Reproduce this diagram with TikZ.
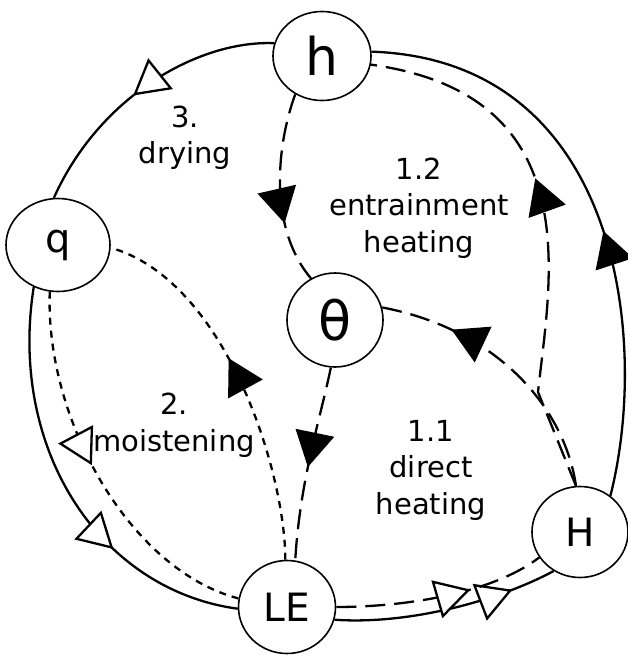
\documentclass[tikz,border=0pt]{standalone}
\usepackage{fontspec}
\setmainfont{DejaVu Sans}
\usetikzlibrary{shapes.geometric,arrows.meta,decorations.markings}
\begin{document}
\begin{tikzpicture}[x=1pt,y=-1pt,
  st/.style={draw, ellipse, fill=white, line width=1.6pt, inner sep=0pt},
  conn/.style={line width=2.3pt},
  ldash/.style={conn, dash pattern=on 20pt off 9pt},
  sdash/.style={conn, dash pattern=on 7pt off 6pt},
  fillarr/.style={postaction={decorate}, decoration={markings, mark=at position #1 with {\arrow{Triangle[length=35pt,width=39pt]}}}},
  openarr/.style={postaction={decorate}, decoration={markings, mark=at position #1 with {\arrow{Triangle[length=35pt,width=39pt,fill=white]}}}},
  lbl/.style={font=\fontsize{29}{36.5}\selectfont, align=center}
]
\useasboundingbox (0,0) rectangle (627,655);

\node[st, minimum width=98pt, minimum height=89pt, font=\fontsize{52}{52}\selectfont] (h) at (322,56) {h};
\node[st, minimum width=104pt, minimum height=93pt, font=\fontsize{40}{40}\selectfont] (q) at (58,245) {q};
\node[st, minimum width=96pt, minimum height=94pt, font=\fontsize{54}{54}\selectfont] (t) at (335,320) {θ};
\node[st, minimum width=96pt, minimum height=91pt, font=\fontsize{39}{39}\selectfont] (H) at (580,532) {H};
\node[st, minimum width=97pt, minimum height=93pt, font=\fontsize{39}{39}\selectfont] (LE) at (287,607) {LE};

\node[lbl] (l3) at (185,138) {3.\\drying};
\node[lbl] (l12) at (419,208) {1.2\\entrainment\\heating};
\node[lbl] (l2) at (174,425) {2.\\moistening};
\node[lbl] (l11) at (431,470) {1.1\\direct\\heating};

% solid loop
\draw[conn, openarr=0.54] (h.165) .. controls (200,40) and (100,95) .. (q.95);
\draw[conn, openarr=0.67] (q.240) .. controls (8,450) and (100,590) .. (LE.182);
\draw[conn, openarr=0.80] (LE.-15) .. controls (410,625) and (500,600) .. (H.236);
\draw[conn, fillarr=0.46] (H.50) .. controls (650,340) and (620,60) .. (h.5);

% long dashed
\coordinate (kink) at (538,392);
\draw[ldash, fillarr=0.6] (H.95) -- (kink) .. controls (550,280) and (590,95) .. (h.-10);
\draw[ldash, fillarr=0.68] (h.235) .. controls (275,150) and (270,230) .. (t.120);
\draw[ldash, fillarr=0.52] (t.265) .. controls (320,420) and (300,480) .. (LE.80);
\draw[ldash, fillarr=0.74] (H.95) .. controls (565,410) and (500,330) .. (t.15);
\draw[ldash, openarr=0.64] (LE.0) .. controls (400,607) and (490,595) .. (H.212);

% short dashed
\draw[sdash, openarr=0.47] (q.260) .. controls (45,420) and (130,570) .. (LE.170);
\draw[sdash, fillarr=0.56] (LE.92) .. controls (285,470) and (225,280) .. (q.-3);
\end{tikzpicture}
\end{document}
